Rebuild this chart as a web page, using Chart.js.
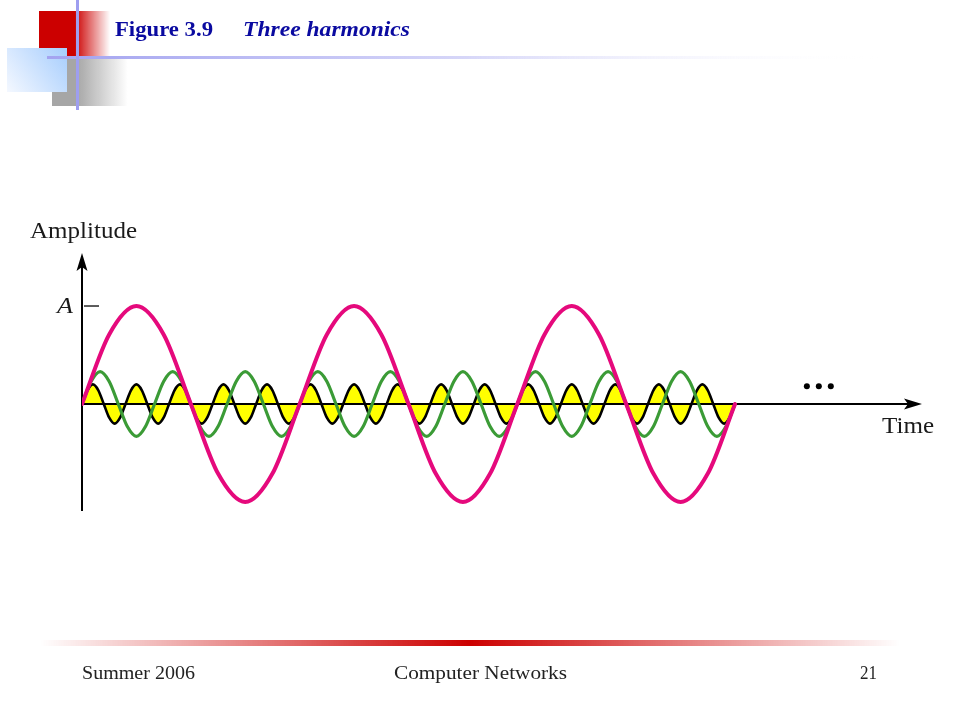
<!DOCTYPE html>
<html>
<head>
<meta charset="utf-8">
<script src="https://cdn.jsdelivr.net/npm/chart.js@4.4.1/dist/chart.umd.min.js"></script>
<style>
  html, body { margin: 0; padding: 0; background: #ffffff; }
  canvas { display: block; background: #ffffff; }
</style>
</head>
<body>
<canvas id="c" width="960" height="720"></canvas>
<script>
// ---- Data (time in fundamental periods, amplitude in units of A) ----
const titleNumber = "Figure 3.9";
const titleText = "Three harmonics";
const yAxisLabel = "Amplitude";
const xAxisLabel = "Time";
const ampTickLabel = "A";
const footerLeft = "Summer 2006";
const footerCenter = "Computer Networks";
const footerRight = "21";

// fundamental (pink): sampled every 1/8 period, 3 periods
const fundamentalStep = 0.125;
const fundamentalValues = [
  0, 0.71, 1, 0.71, 0, -0.71, -1, -0.71,
  0, 0.71, 1, 0.71, 0, -0.71, -1, -0.71,
  0, 0.71, 1, 0.71, 0, -0.71, -1, -0.71,
  0
];
// third harmonic (green): sampled every 1/24 period, 9 cycles
const thirdStep = 1 / 24;
const thirdValues = [
  0, 0.23, 0.33, 0.23, 0, -0.23, -0.33, -0.23,
  0, 0.23, 0.33, 0.23, 0, -0.23, -0.33, -0.23,
  0, 0.23, 0.33, 0.23, 0, -0.23, -0.33, -0.23,
  0, 0.23, 0.33, 0.23, 0, -0.23, -0.33, -0.23,
  0, 0.23, 0.33, 0.23, 0, -0.23, -0.33, -0.23,
  0, 0.23, 0.33, 0.23, 0, -0.23, -0.33, -0.23,
  0, 0.23, 0.33, 0.23, 0, -0.23, -0.33, -0.23,
  0, 0.23, 0.33, 0.23, 0, -0.23, -0.33, -0.23,
  0, 0.23, 0.33, 0.23, 0, -0.23, -0.33, -0.23,
  0
];
// fifth harmonic (black, yellow fill): sampled every 1/40 period, 15 cycles
const fifthStep = 1 / 40;
const fifthValues = [
  0, 0.14, 0.2, 0.14, 0, -0.14, -0.2, -0.14,
  0, 0.14, 0.2, 0.14, 0, -0.14, -0.2, -0.14,
  0, 0.14, 0.2, 0.14, 0, -0.14, -0.2, -0.14,
  0, 0.14, 0.2, 0.14, 0, -0.14, -0.2, -0.14,
  0, 0.14, 0.2, 0.14, 0, -0.14, -0.2, -0.14,
  0, 0.14, 0.2, 0.14, 0, -0.14, -0.2, -0.14,
  0, 0.14, 0.2, 0.14, 0, -0.14, -0.2, -0.14,
  0, 0.14, 0.2, 0.14, 0, -0.14, -0.2, -0.14,
  0, 0.14, 0.2, 0.14, 0, -0.14, -0.2, -0.14,
  0, 0.14, 0.2, 0.14, 0, -0.14, -0.2, -0.14,
  0, 0.14, 0.2, 0.14, 0, -0.14, -0.2, -0.14,
  0, 0.14, 0.2, 0.14, 0, -0.14, -0.2, -0.14,
  0, 0.14, 0.2, 0.14, 0, -0.14, -0.2, -0.14,
  0, 0.14, 0.2, 0.14, 0, -0.14, -0.2, -0.14,
  0, 0.14, 0.2, 0.14, 0, -0.14, -0.2, -0.14,
  0
];
// "..." continuation mark position (data space)
const dotsTime = [3.33, 3.385, 3.44];
const dotsAmp = 0.18;

function toPoints(values, step) {
  return values.map((v, i) => ({ x: i * step, y: v }));
}

// ---- helpers ----
function fitText(ctx, text, font, x, y, width, color) {
  ctx.save();
  ctx.font = font;
  ctx.fillStyle = color;
  ctx.textBaseline = 'alphabetic';
  ctx.textAlign = 'left';
  const w = ctx.measureText(text).width;
  ctx.translate(x, y);
  ctx.scale(width / w, 1);
  ctx.fillText(text, 0, 0);
  ctx.restore();
}

const slidePlugin = {
  id: 'slide',
  beforeDraw(chart) {
    const ctx = chart.ctx;
    ctx.save();
    // red block with fade
    let g = ctx.createLinearGradient(39, 0, 110, 0);
    g.addColorStop(0, '#cc0000');
    g.addColorStop(0.5, '#cc0000');
    g.addColorStop(1, 'rgba(204,0,0,0)');
    ctx.fillStyle = g;
    ctx.fillRect(39, 11, 71, 46);
    // gray block with fade
    g = ctx.createLinearGradient(52, 0, 128, 0);
    g.addColorStop(0, '#a6a6a6');
    g.addColorStop(0.32, '#a6a6a6');
    g.addColorStop(1, 'rgba(166,166,166,0)');
    ctx.fillStyle = g;
    ctx.fillRect(52, 57, 76, 49);
    // light blue block
    g = ctx.createLinearGradient(67, 48, 7, 92);
    g.addColorStop(0, '#a6cdfd');
    g.addColorStop(1, '#f4f8ff');
    ctx.fillStyle = g;
    ctx.fillRect(7, 48, 60, 44);
    // horizontal title rule
    g = ctx.createLinearGradient(47, 0, 880, 0);
    g.addColorStop(0, '#a3a3f0');
    g.addColorStop(0.5, '#d6d6f8');
    g.addColorStop(1, 'rgba(255,255,255,0)');
    ctx.fillStyle = g;
    ctx.fillRect(47, 56, 833, 3);
    // vertical rule
    ctx.fillStyle = '#9e9ef0';
    ctx.fillRect(76, 0, 3, 110);
    // footer rule
    g = ctx.createLinearGradient(40, 0, 900, 0);
    g.addColorStop(0, 'rgba(204,0,0,0)');
    g.addColorStop(0.5, '#cc0000');
    g.addColorStop(1, 'rgba(204,0,0,0)');
    ctx.fillStyle = g;
    ctx.fillRect(40, 640, 860, 6);
    ctx.restore();
  },
  beforeDatasetsDraw(chart) {
    const ctx = chart.ctx;
    const xs = chart.scales.x, ys = chart.scales.y;
    const x0 = xs.getPixelForValue(0);
    const y0 = ys.getPixelForValue(0);
    const top = chart.chartArea.top, bottom = chart.chartArea.bottom, right = chart.chartArea.right;
    ctx.save();
    ctx.strokeStyle = '#000';
    ctx.fillStyle = '#000';
    ctx.lineWidth = 2;
    // y axis
    ctx.beginPath();
    ctx.moveTo(x0, bottom);
    ctx.lineTo(x0, top + 12);
    ctx.stroke();
    ctx.beginPath();
    ctx.moveTo(x0, top);
    ctx.lineTo(x0 - 5.5, top + 18);
    ctx.lineTo(x0, top + 14);
    ctx.lineTo(x0 + 5.5, top + 18);
    ctx.closePath();
    ctx.fill();
    // x axis
    ctx.beginPath();
    ctx.moveTo(x0, y0);
    ctx.lineTo(right - 12, y0);
    ctx.stroke();
    ctx.beginPath();
    ctx.moveTo(right, y0);
    ctx.lineTo(right - 18, y0 - 5.5);
    ctx.lineTo(right - 14, y0);
    ctx.lineTo(right - 18, y0 + 5.5);
    ctx.closePath();
    ctx.fill();
    // A tick
    const yA = ys.getPixelForValue(1);
    ctx.lineWidth = 1.6;
    ctx.strokeStyle = '#333';
    ctx.beginPath();
    ctx.moveTo(x0 + 2, yA);
    ctx.lineTo(x0 + 17, yA);
    ctx.stroke();
    ctx.restore();
  },
  afterDraw(chart) {
    const ctx = chart.ctx;
    const xs = chart.scales.x, ys = chart.scales.y;
    // title
    fitText(ctx, titleNumber, 'bold 20px "Liberation Serif"', 115, 36, 98, '#0a0aa0');
    fitText(ctx, titleText, 'italic bold 20px "Liberation Serif"', 243, 36, 167, '#0a0aa0');
    // axis labels
    fitText(ctx, yAxisLabel, '23px "Liberation Serif"', 30, 238, 107, '#1a1a1a');
    fitText(ctx, xAxisLabel, '23px "Liberation Serif"', 882, 433, 52, '#1a1a1a');
    fitText(ctx, ampTickLabel, 'italic 23px "Liberation Serif"', 57, 313, 16, '#1a1a1a');
    // continuation dots
    ctx.save();
    ctx.fillStyle = '#000';
    dotsTime.forEach(t => {
      ctx.beginPath();
      ctx.arc(xs.getPixelForValue(t), ys.getPixelForValue(dotsAmp), 3, 0, Math.PI * 2);
      ctx.fill();
    });
    ctx.restore();
    // footer
    fitText(ctx, footerLeft, '19px "Liberation Serif"', 82, 679, 113, '#222');
    fitText(ctx, footerCenter, '19px "Liberation Serif"', 394, 679, 173, '#222');
    fitText(ctx, footerRight, '19px "Liberation Serif"', 860, 679, 17, '#222');
  }
};

new Chart(document.getElementById('c'), {
  type: 'line',
  data: {
    datasets: [
      {
        label: 'Fundamental',
        data: toPoints(fundamentalValues, fundamentalStep),
        borderColor: '#e5097c',
        borderWidth: 4,
        fill: false
      },
      {
        label: 'Third harmonic',
        data: toPoints(thirdValues, thirdStep),
        borderColor: '#3b9b36',
        borderWidth: 3.2,
        fill: false
      },
      {
        label: 'Fifth harmonic',
        data: toPoints(fifthValues, fifthStep),
        borderColor: '#000000',
        borderWidth: 2.6,
        backgroundColor: '#ffff00',
        fill: 'origin'
      }
    ]
  },
  options: {
    responsive: false,
    devicePixelRatio: 1,
    animation: false,
    layout: { padding: { left: 82, right: 38, top: 253, bottom: 209 } },
    elements: {
      point: { radius: 0, hoverRadius: 0 },
      line: { cubicInterpolationMode: 'monotone', capBezierPoints: false, borderCapStyle: 'round' }
    },
    scales: {
      x: { type: 'linear', min: 0, max: 3.859, display: false },
      y: { type: 'linear', min: -1.092, max: 1.541, display: false }
    },
    plugins: {
      legend: { display: false },
      tooltip: { enabled: false },
      filler: { drawTime: 'beforeDraw' }
    }
  },
  plugins: [slidePlugin]
});
</script>
</body>
</html>
